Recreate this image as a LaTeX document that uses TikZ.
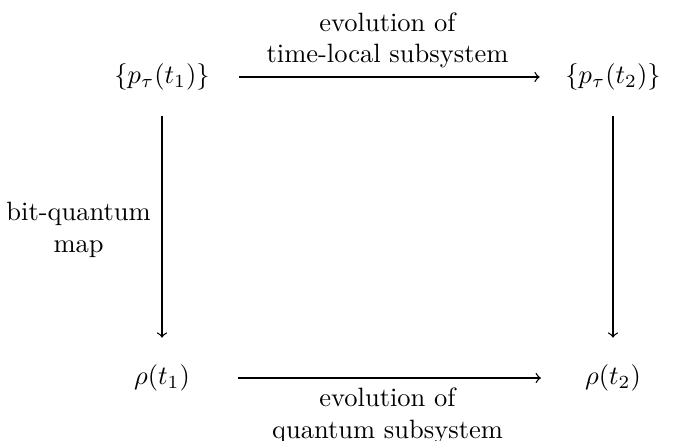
\documentclass[tikz,border=0pt]{standalone}
\begin{document}
\begin{tikzpicture}[x=0.3774pt,y=-0.3774pt,
  obj/.style={inner sep=0pt,minimum width=35pt},
  lbl/.style={inner sep=0pt,align=center},
  arr/.style={->,line width=0.5pt}]
\useasboundingbox (0,0) rectangle (673,441);
\node[obj] (A) at (162,77) {$\{p_\tau(t_1)\}$};
\node[obj] (B) at (613,77) {$\{p_\tau(t_2)\}$};
\node[obj] (C) at (162,378) {$\rho(t_1)$};
\node[obj] (D) at (613,378) {$\rho(t_2)$};
\draw[arr,shorten <=11pt,shorten >=9.5pt] (A) -- (B)
  node[lbl,midway,above=3pt] (T) {evolution of\\time-local subsystem};
\draw[arr,shorten <=11pt,shorten >=9.5pt] (C) -- (D)
  node[lbl,midway,below=3.5pt] (Bt) {evolution of\\quantum subsystem};
\draw[arr,shorten <=9.5pt,shorten >=10pt] (A) -- (C)
  node[lbl,midway,left=4pt,yshift=-1pt] (L) {bit-quantum\\map};
\draw[arr,shorten <=9.5pt,shorten >=10pt] (B) -- (D);
\end{tikzpicture}
\end{document}
